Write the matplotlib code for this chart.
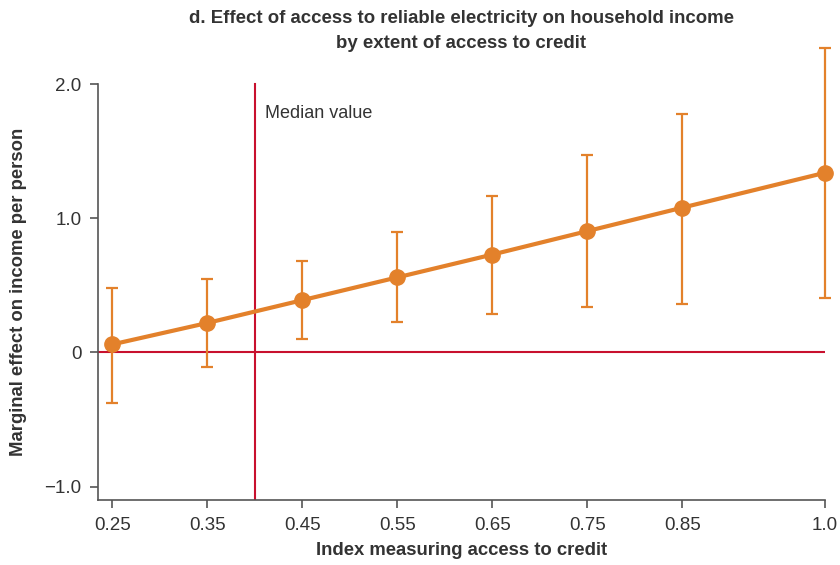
import numpy as np
import matplotlib
matplotlib.use("Agg")
import matplotlib.pyplot as plt

plt.rcParams['font.family'] = ['Liberation Sans', 'DejaVu Sans']

# data
credit_index = [0.25, 0.35, 0.45, 0.55, 0.65, 0.75, 0.85, 1.0]
effect = [0.06, 0.22, 0.39, 0.56, 0.73, 0.905, 1.08, 1.34]
upper = [0.48, 0.55, 0.68, 0.90, 1.17, 1.475, 1.78, 2.27]
lower = [-0.38, -0.11, 0.10, 0.23, 0.29, 0.34, 0.36, 0.405]
median_value = 0.40
x_ticks = [0.25, 0.35, 0.45, 0.55, 0.65, 0.75, 0.85, 1.0]
x_tick_labels = ['0.25', '0.35', '0.45', '0.55', '0.65', '0.75', '0.85', '1.0']
y_ticks = [-1.0, 0, 1.0, 2.0]
y_tick_labels = ['\u22121.0', '0', '1.0', '2.0']

orange = '#E3812B'
red = '#C8102E'
txt = '#333333'

effect = np.asarray(effect)
err = [effect - np.asarray(lower), np.asarray(upper) - effect]

fig = plt.figure(figsize=(8.4, 5.65), dpi=100)
ax = fig.add_axes([98/840, 1-500/565, (825-98)/840, 456/565])

ax.set_xlim(0.235, 1.0)
ax.set_ylim(-1.1, 2.3)

# reference lines
ax.axhline(0, color=red, lw=1.5, zorder=1)
ax.plot([median_value, median_value], [-1.1, 2.0], color=red, lw=1.5, zorder=1)
ax.text(median_value + 0.011, 1.78, 'Median value', fontsize=13, color=txt,
        va='center', ha='left')

ax.errorbar(credit_index, effect, yerr=err, fmt='none', ecolor=orange,
            elinewidth=1.6, capsize=4.5, capthick=1.6, zorder=2, clip_on=False)
ax.plot(credit_index, effect, color=orange, lw=3, marker='o', markersize=11,
        zorder=3, clip_on=False)

for s in ['top', 'right']:
    ax.spines[s].set_visible(False)
for s in ['left', 'bottom']:
    ax.spines[s].set_color('#555555')
    ax.spines[s].set_linewidth(1.2)
ax.spines['left'].set_bounds(-1.1, 2.0)

ax.set_xticks(x_ticks)
ax.set_xticklabels(x_tick_labels)
ax.set_yticks(y_ticks)
ax.set_yticklabels(y_tick_labels)
ax.tick_params(axis='both', direction='out', length=6, width=1.2, color='#555555',
               labelsize=13.5, labelcolor=txt, pad=6)

ax.set_xlabel('Index measuring access to credit', fontsize=13.3, fontweight='bold',
              color=txt, labelpad=6)
ax.set_ylabel('Marginal effect on income per person', fontsize=13.3, fontweight='bold',
              color=txt)
ax.yaxis.set_label_coords(-0.098, 0.456)

fig.text(461/840, 1-31/565,
         'd. Effect of access to reliable electricity on household income\nby extent of access to credit',
         ha='center', va='center', fontsize=13.4, fontweight='bold', color=txt,
         linespacing=1.55)

fig.savefig('out.png', dpi=100)
